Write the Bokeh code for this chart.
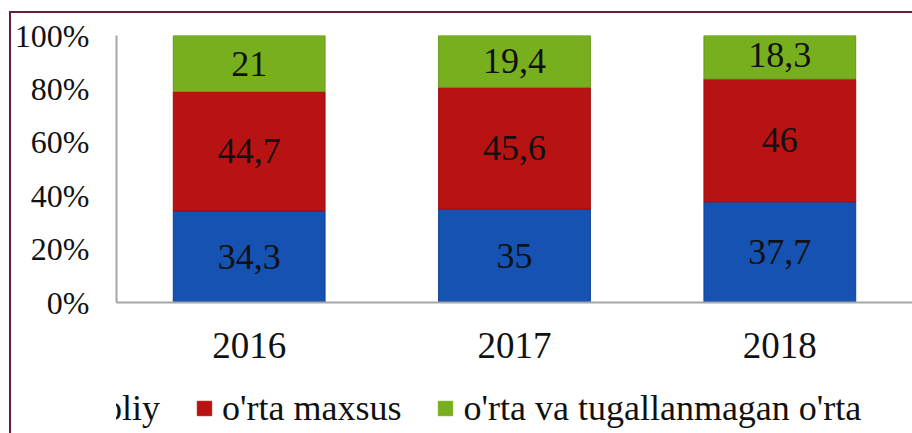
from bokeh.plotting import figure
from bokeh.layouts import column
from bokeh.models import ColumnDataSource, Range1d, Legend, LegendItem, FixedTicker, LabelSet
from bokeh.core.properties import value
from bokeh.embed import file_html
from bokeh.resources import INLINE

years = ["2016", "2017", "2018"]
oliy = [34.3, 35.0, 37.7]
maxsus = [44.7, 45.6, 46.0]
orta = [21.0, 19.4, 18.3]
oliy_txt = ["34,3", "35", "37,7"]
maxsus_txt = ["44,7", "45,6", "46"]
orta_txt = ["21", "19,4", "18,3"]
y_ticks = [0, 20, 40, 60, 80, 100]
y_tick_labels = ["0%", "20%", "40%", "60%", "80%", "100%"]
series_names = ["oliy", "o'rta maxsus", "o'rta va tugallanmagan o'rta"]
colors = ["#1652B2", "#B81313", "#78AF1F"]
edges = ["#0E3F95", "#A00C0C", "#67991A"]

FONT = "Liberation Serif"

src = ColumnDataSource(dict(
    year=years, oliy=oliy, maxsus=maxsus, orta=orta,
    y1=[a / 2 for a in oliy],
    y2=[a + b / 2 for a, b in zip(oliy, maxsus)],
    y3=[a + b + c / 2 for a, b, c in zip(oliy, maxsus, orta)],
    t1=oliy_txt, t2=maxsus_txt, t3=orta_txt,
))

p = figure(x_range=years, y_range=Range1d(0, 100), width=901, height=362,
           output_backend="svg", toolbar_location=None,
           min_border_left=104, min_border_right=0, min_border_top=22, min_border_bottom=73)
p.outline_line_color = None
p.grid.grid_line_color = None
p.x_range.range_padding = 0

r = p.vbar_stack(["oliy", "maxsus", "orta"], x="year", width=0.572, source=src,
                 color=colors, line_color=edges, line_width=1)

for ycol, tcol in [("y1", "t1"), ("y2", "t2"), ("y3", "t3")]:
    p.add_layout(LabelSet(x="year", y=ycol, text=tcol, source=src, text_align="center",
                          text_baseline="middle", text_font=value(FONT),
                          text_font_size="36px", text_color="#111111"))

p.yaxis.ticker = FixedTicker(ticks=y_ticks)
p.yaxis.major_label_overrides = {t: l for t, l in zip(y_ticks, y_tick_labels)}
for ax in (p.xaxis[0], p.yaxis[0]):
    ax.axis_line_color = "#a6a6a6"
    ax.axis_line_width = 2
    ax.major_tick_line_color = None
    ax.minor_tick_line_color = None
    ax.major_label_text_font = FONT
    ax.major_label_text_color = "#111111"
p.yaxis.major_label_text_font_size = "32px"
p.yaxis.major_label_standoff = 21
p.xaxis.major_label_text_font_size = "37px"
p.xaxis.major_label_standoff = 24

# legend strip below the chart (series drawn out of view, only their legend swatches show)
lg = figure(width=901, height=58, x_range=years, y_range=Range1d(101, 102),
            output_backend="svg", toolbar_location=None,
            x_axis_location=None, y_axis_location=None,
            min_border=0, min_border_left=0, min_border_right=0, min_border_top=0, min_border_bottom=0)
lg.grid.visible = False
lg.outline_line_color = None
dummies = [lg.vbar(x="year", top=col, width=0.5, source=src, color=c, line_color=c)
           for col, c in zip(["oliy", "maxsus", "orta"], colors)]
legend = Legend(items=[LegendItem(label=n, renderers=[rr]) for n, rr in zip(series_names, dummies)],
                orientation="horizontal", location=(-39, 4), padding=0, margin=0,
                spacing=35, label_standoff=9, glyph_width=18, glyph_height=18,
                label_text_font=FONT, label_text_font_size="36px",
                label_text_color="#111111",
                border_line_color=None, background_fill_alpha=0)
lg.add_layout(legend)

layout = column(p, lg, spacing=0)
layout.styles = {"border-top": "2px solid #6a1f35", "border-left": "2px solid #6a1f35",
                 "margin-left": "9px", "margin-top": "11px"}

open("out.html", "w").write(file_html(layout, INLINE))
